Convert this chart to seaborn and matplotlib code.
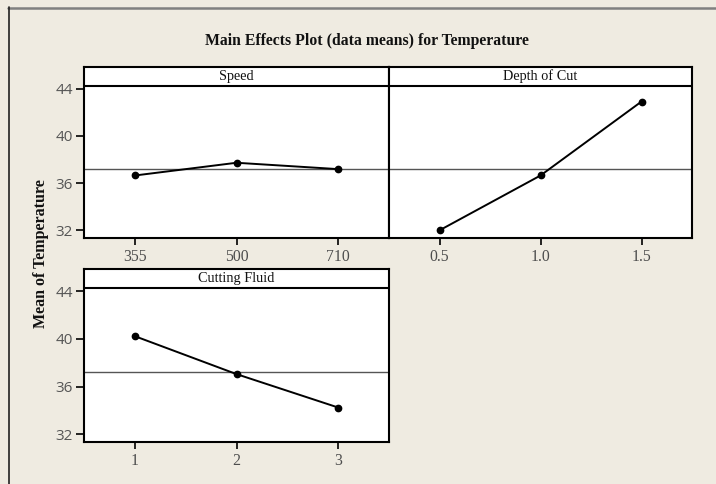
import matplotlib
matplotlib.use("Agg")
import matplotlib.pyplot as plt
import seaborn as sns
import pandas as pd
from matplotlib.lines import Line2D

# ---- data ----
speed_levels = ["355", "500", "710"]
speed_means = [36.65, 37.73, 37.19]
depth_levels = ["0.5", "1.0", "1.5"]
depth_means = [32.00, 36.65, 42.92]
fluid_levels = ["1", "2", "3"]
fluid_means = [40.22, 37.04, 34.24]
grand_mean = 37.18
panel_titles = ["Speed", "Depth of Cut", "Cutting Fluid"]
y_ticks = [32, 36, 40, 44]
title = "Main Effects Plot (data means) for Temperature"
ylabel = "Mean of Temperature"

sns.set_theme(style="white")
plt.rcParams["font.family"] = ["Liberation Serif", "DejaVu Serif"]

BG = "#EFEBE1"
W, H = 716, 484
fig = plt.figure(figsize=(W / 100, H / 100), dpi=100, facecolor=BG)

def px_axes(left, top, right, bottom):
    return fig.add_axes([left / W, 1 - bottom / H, (right - left) / W, (bottom - top) / H])

ax1 = px_axes(84, 67, 389, 238)
ax2 = px_axes(389, 67, 692, 238)
ax3 = px_axes(84, 269, 389, 442)

YLIM = (31.35, 45.85)
STRIP = 44.25

panels = [
    (ax1, speed_levels, speed_means, panel_titles[0], True),
    (ax2, depth_levels, depth_means, panel_titles[1], False),
    (ax3, fluid_levels, fluid_means, panel_titles[2], True),
]

for ax, levels, means, ttl, show_y in panels:
    df = pd.DataFrame({"level": levels, "mean": means})
    ax.set_facecolor("white")
    ax.axhline(grand_mean, color="#555555", lw=1.0, zorder=1)
    sns.pointplot(data=df, x="level", y="mean", order=levels, ax=ax,
                  color="black", markers="o", linestyles="-",
                  errorbar=None, markersize=4.5, linewidth=1.4)
    ax.set_xlim(-0.5, len(levels) - 0.5)
    ax.set_ylim(*YLIM)
    ax.axhline(STRIP, color="black", lw=1.5, zorder=3)
    ax.text(0.5, (STRIP + YLIM[1]) / 2, ttl, transform=ax.get_yaxis_transform(),
            ha="center", va="center", fontsize=10.3, color="#111111")
    ax.set_xlabel("")
    ax.set_ylabel("")
    for s in ax.spines.values():
        s.set_color("black")
        s.set_linewidth(1.5)
        s.set_visible(True)
    ax.tick_params(axis="x", direction="out", length=5, width=1.2, color="black",
                   labelsize=11.3, labelcolor="#4d4d4d", pad=3, bottom=True)
    if show_y:
        ax.set_yticks(y_ticks)
        ax.set_yticklabels([str(v) for v in y_ticks], family=["Open Sans", "DejaVu Sans"])
        ax.tick_params(axis="y", direction="out", length=6, width=1.2, color="black",
                       labelsize=11, labelcolor="#555555", pad=2, left=True)
    else:
        ax.set_yticks([])

fig.text(367 / W, 1 - 41 / H, title, ha="center", va="center",
         fontsize=11.3, fontweight="bold", color="#111111")
fig.text(41 / W, 1 - 254 / H, ylabel, ha="center", va="center", rotation=90,
         fontsize=11.5, fontweight="bold", color="#111111")

# outer frame lines
fig.add_artist(Line2D([8 / W, 1], [1 - 7.5 / H, 1 - 7.5 / H], transform=fig.transFigure,
                      color="#808080", lw=1.8))
fig.add_artist(Line2D([8.5 / W, 8.5 / W], [0, 1 - 7 / H], transform=fig.transFigure,
                      color="#222222", lw=1.2))

fig.savefig("out.png", dpi=100, facecolor=BG)
